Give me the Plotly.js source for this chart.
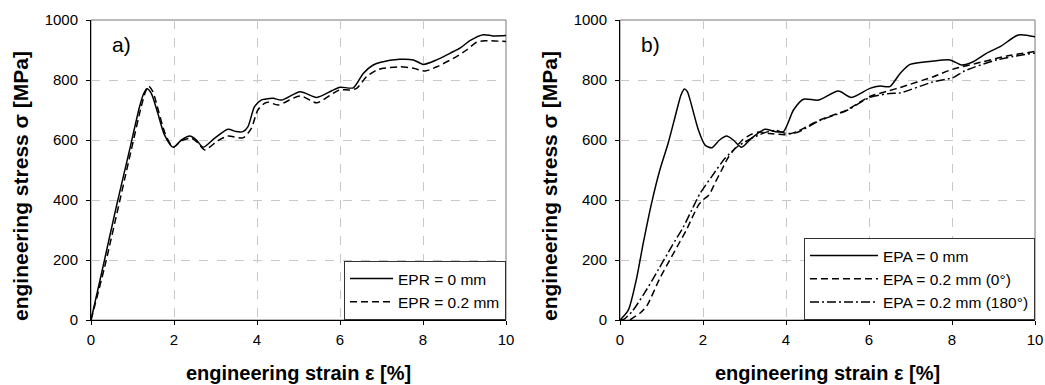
<!DOCTYPE html>
<html>
<head>
<meta charset="utf-8">
<script src="https://cdn.plot.ly/plotly-3.0.1.min.js"></script>
<style>html,body{margin:0;padding:0;background:#fff;}#chart{width:1045px;height:385px;}</style>
</head>
<body>
<div id="chart"></div>
<script>
// Panel a) EPR = 0 mm
const aSolidX = [0, 0.29, 0.61, 0.93, 1.17, 1.27, 1.35, 1.45, 1.61, 1.77, 1.98, 2.18, 2.38, 2.54, 2.7, 2.98, 3.3, 3.5, 3.66, 3.78, 3.94, 4.1, 4.19, 4.39, 4.59, 5.04, 5.44, 5.8, 6.0, 6.32, 6.56, 6.8, 6.96, 7.44, 7.77, 8.01, 8.33, 8.65, 8.89, 9.13, 9.45, 9.69, 10.0];
const aSolidY = [0, 178, 378, 567, 711, 755, 771, 756, 689, 617, 576, 600, 613, 600, 576, 606, 636, 628, 628, 644, 711, 733, 736, 739, 733, 761, 742, 764, 776, 774, 822, 850, 858, 869, 867, 852, 867, 889, 906, 931, 951, 947, 948];
// Panel a) EPR = 0.2 mm
const aDashX = [0, 0.33, 0.97, 1.21, 1.31, 1.39, 1.49, 1.63, 1.79, 1.98, 2.18, 2.42, 2.58, 2.74, 3.06, 3.3, 3.66, 3.86, 4.02, 4.18, 4.27, 4.51, 5.04, 5.44, 5.84, 6.0, 6.24, 6.4, 6.64, 6.88, 7.04, 7.44, 7.77, 8.05, 8.33, 8.73, 9.05, 9.29, 9.49, 10];
const aDashY = [0, 178, 567, 711, 760, 780, 761, 695, 620, 576, 598, 606, 590, 567, 598, 613, 607, 638, 700, 722, 726, 717, 747, 724, 756, 767, 767, 772, 811, 833, 839, 844, 839, 830, 844, 872, 900, 926, 931, 928];
// Panel b) EPA = 0 mm
const bSolidX = [0, 0.2, 0.4, 0.56, 0.76, 0.96, 1.16, 1.37, 1.47, 1.55, 1.62, 1.69, 1.89, 2.05, 2.21, 2.4, 2.57, 2.73, 2.93, 3.17, 3.49, 3.73, 3.94, 4.18, 4.42, 4.78, 5.26, 5.58, 6.02, 6.27, 6.5, 6.75, 6.99, 7.55, 7.95, 8.23, 8.51, 8.83, 9.16, 9.6, 10];
const bSolidY = [0, 33, 139, 256, 389, 500, 589, 700, 750, 770, 762, 733, 633, 583, 574, 600, 613, 600, 576, 606, 636, 628, 628, 700, 736, 733, 763, 742, 772, 780, 778, 822, 852, 863, 867, 850, 861, 889, 911, 950, 944];
// Panel b) EPA = 0.2 mm (0°)
const bDashX = [0.24, 0.5, 0.65, 0.96, 1.2, 1.4, 1.6, 1.73, 1.9, 2.0, 2.15, 2.3, 2.45, 2.6, 2.77, 2.95, 3.15, 3.35, 3.6, 4.0, 4.26, 4.82, 5.46, 6.02, 6.5, 6.75, 7.55, 8.0, 8.75, 9.32, 10];
const bDashY = [0, 25, 48, 139, 200, 250, 300, 339, 385, 400, 418, 460, 500, 540, 572, 600, 618, 627, 622, 618, 628, 667, 700, 745, 765, 775, 811, 835, 861, 880, 895];
// Panel b) EPA = 0.2 mm (180°)
const bDotX = [0, 0.1, 0.3, 0.6, 0.92, 1.24, 1.53, 1.73, 1.93, 2.21, 2.53, 2.85, 3.25, 3.57, 3.75, 4.0, 4.26, 4.82, 5.46, 6.02, 6.5, 6.75, 7.55, 8.03, 8.3, 9.1, 10];
const bDotY = [0, 3, 30, 92, 167, 244, 311, 367, 422, 478, 539, 580, 611, 628, 632, 622, 625, 665, 698, 742, 755, 757, 794, 808, 830, 868, 890];

const xTicks = [0, 2, 4, 6, 8, 10];
const yTicks = [0, 200, 400, 600, 800, 1000];
const namesA = ['EPR = 0 mm', 'EPR = 0.2 mm'];
const namesB = ['EPA = 0 mm', 'EPA = 0.2 mm (0°)', 'EPA = 0.2 mm (180°)'];
const xTitle = 'engineering strain ε [%]';
const yTitle = 'engineering stress σ [MPa]';

const FONT = 'Arial, "Liberation Sans", sans-serif';
const lw = 1.5;
function tr(x, y, name, dash, xa, ya, leg) {
  return {x: x, y: y, name: name, type: 'scatter', mode: 'lines',
    line: {color: '#000', width: lw, dash: dash, shape: 'spline', smoothing: 0.7},
    xaxis: xa, yaxis: ya, legend: leg, hoverinfo: 'skip'};
}
const data = [
  tr(aSolidX, aSolidY, namesA[0], 'solid', 'x', 'y', 'legend'),
  tr(aDashX, aDashY, namesA[1], '7px,4px', 'x', 'y', 'legend'),
  tr(bSolidX, bSolidY, namesB[0], 'solid', 'x2', 'y2', 'legend2'),
  tr(bDashX, bDashY, namesB[1], '7px,4px', 'x2', 'y2', 'legend2'),
  tr(bDotX, bDotY, namesB[2], '9px,3px,2px,3px', 'x2', 'y2', 'legend2')
];

const W = 1045, H = 385;
const TICKSIZE = 15;
const ax = (d) => ({
  domain: d, range: [0, 10], tickvals: xTicks, ticktext: xTicks.map(String),
  ticks: 'outside', ticklen: 4, tickcolor: '#000', tickwidth: 1,
  showline: true, linecolor: '#000', linewidth: 1, zeroline: false,
  showgrid: true, gridcolor: '#c8c8c8', griddash: 'dash', gridwidth: 1,
  tickfont: {family: FONT, size: TICKSIZE, color: '#000'}, fixedrange: true,
  ticklabelstandoff: 2
});
const ay = (d, anchor) => ({
  domain: d, range: [0, 1000], tickvals: yTicks, ticktext: yTicks.map(String),
  ticks: 'outside', ticklen: 4, tickcolor: '#000', tickwidth: 1,
  showline: true, linecolor: '#000', linewidth: 1, zeroline: false,
  showgrid: true, gridcolor: '#c8c8c8', griddash: 'dash', gridwidth: 1,
  tickfont: {family: FONT, size: TICKSIZE, color: '#000'}, anchor: anchor, fixedrange: true,
  ticklabelstandoff: 5
});
const yDom = [1 - 320 / H, 1 - 20 / H];
const xDomA = [91 / W, 506 / W];
const xDomB = [620 / W, 1035 / W];

const xa = ax(xDomA); xa.anchor = 'y';
const xb = ax(xDomB); xb.anchor = 'y2';

const LEGSIZE = 15.5;
const layout = {
  width: W, height: H,
  margin: {l: 0, r: 0, t: 0, b: 0},
  paper_bgcolor: '#fff', plot_bgcolor: '#fff',
  font: {family: FONT, color: '#000'},
  xaxis: xa, yaxis: ay(yDom, 'x'),
  xaxis2: xb, yaxis2: ay(yDom, 'x2'),
  showlegend: true,
  legend: {x: xDomA[1], xanchor: 'right', y: yDom[0], yanchor: 'bottom',
    bgcolor: '#fff', bordercolor: '#333', borderwidth: 1,
    font: {family: FONT, size: LEGSIZE, color: '#000'}, itemwidth: 43, tracegroupgap: 0},
  legend2: {x: xDomB[1], xanchor: 'right', y: yDom[0], yanchor: 'bottom',
    bgcolor: '#fff', bordercolor: '#333', borderwidth: 1,
    font: {family: FONT, size: LEGSIZE, color: '#000'}, itemwidth: 68, tracegroupgap: 0},
  shapes: [
    {type: 'rect', xref: 'x domain', yref: 'y domain', x0: 0, x1: 1, y0: 0, y1: 1, line: {color: '#777', width: 1}, layer: 'below'},
    {type: 'rect', xref: 'x2 domain', yref: 'y2 domain', x0: 0, x1: 1, y0: 0, y1: 1, line: {color: '#777', width: 1}, layer: 'below'}
  ],
  annotations: [
    {text: 'a)', xref: 'x', yref: 'y', x: 0.46, y: 917, xanchor: 'left', yanchor: 'middle', showarrow: false, font: {family: FONT, size: 21, color: '#000'}},
    {text: 'b)', xref: 'x2', yref: 'y2', x: 0.46, y: 917, xanchor: 'left', yanchor: 'middle', showarrow: false, font: {family: FONT, size: 21, color: '#000'}},
    {text: '<b>' + xTitle + '</b>', xref: 'paper', yref: 'paper', x: (xDomA[0] + xDomA[1]) / 2, y: 1 - 373 / H, xanchor: 'center', yanchor: 'middle', showarrow: false, font: {family: FONT, size: 20, color: '#000'}},
    {text: '<b>' + xTitle + '</b>', xref: 'paper', yref: 'paper', x: (xDomB[0] + xDomB[1]) / 2, y: 1 - 373 / H, xanchor: 'center', yanchor: 'middle', showarrow: false, font: {family: FONT, size: 20, color: '#000'}},
    {text: '<b>' + yTitle + '</b>', xref: 'paper', yref: 'paper', x: 21 / W, y: 1 - 186 / H, xanchor: 'center', yanchor: 'middle', textangle: -90, showarrow: false, font: {family: FONT, size: 21, color: '#000'}},
    {text: '<b>' + yTitle + '</b>', xref: 'paper', yref: 'paper', x: 550 / W, y: 1 - 186 / H, xanchor: 'center', yanchor: 'middle', textangle: -90, showarrow: false, font: {family: FONT, size: 21, color: '#000'}}
  ]
};
Plotly.newPlot('chart', data, layout, {displayModeBar: false, staticPlot: true});
</script>
</body>
</html>
